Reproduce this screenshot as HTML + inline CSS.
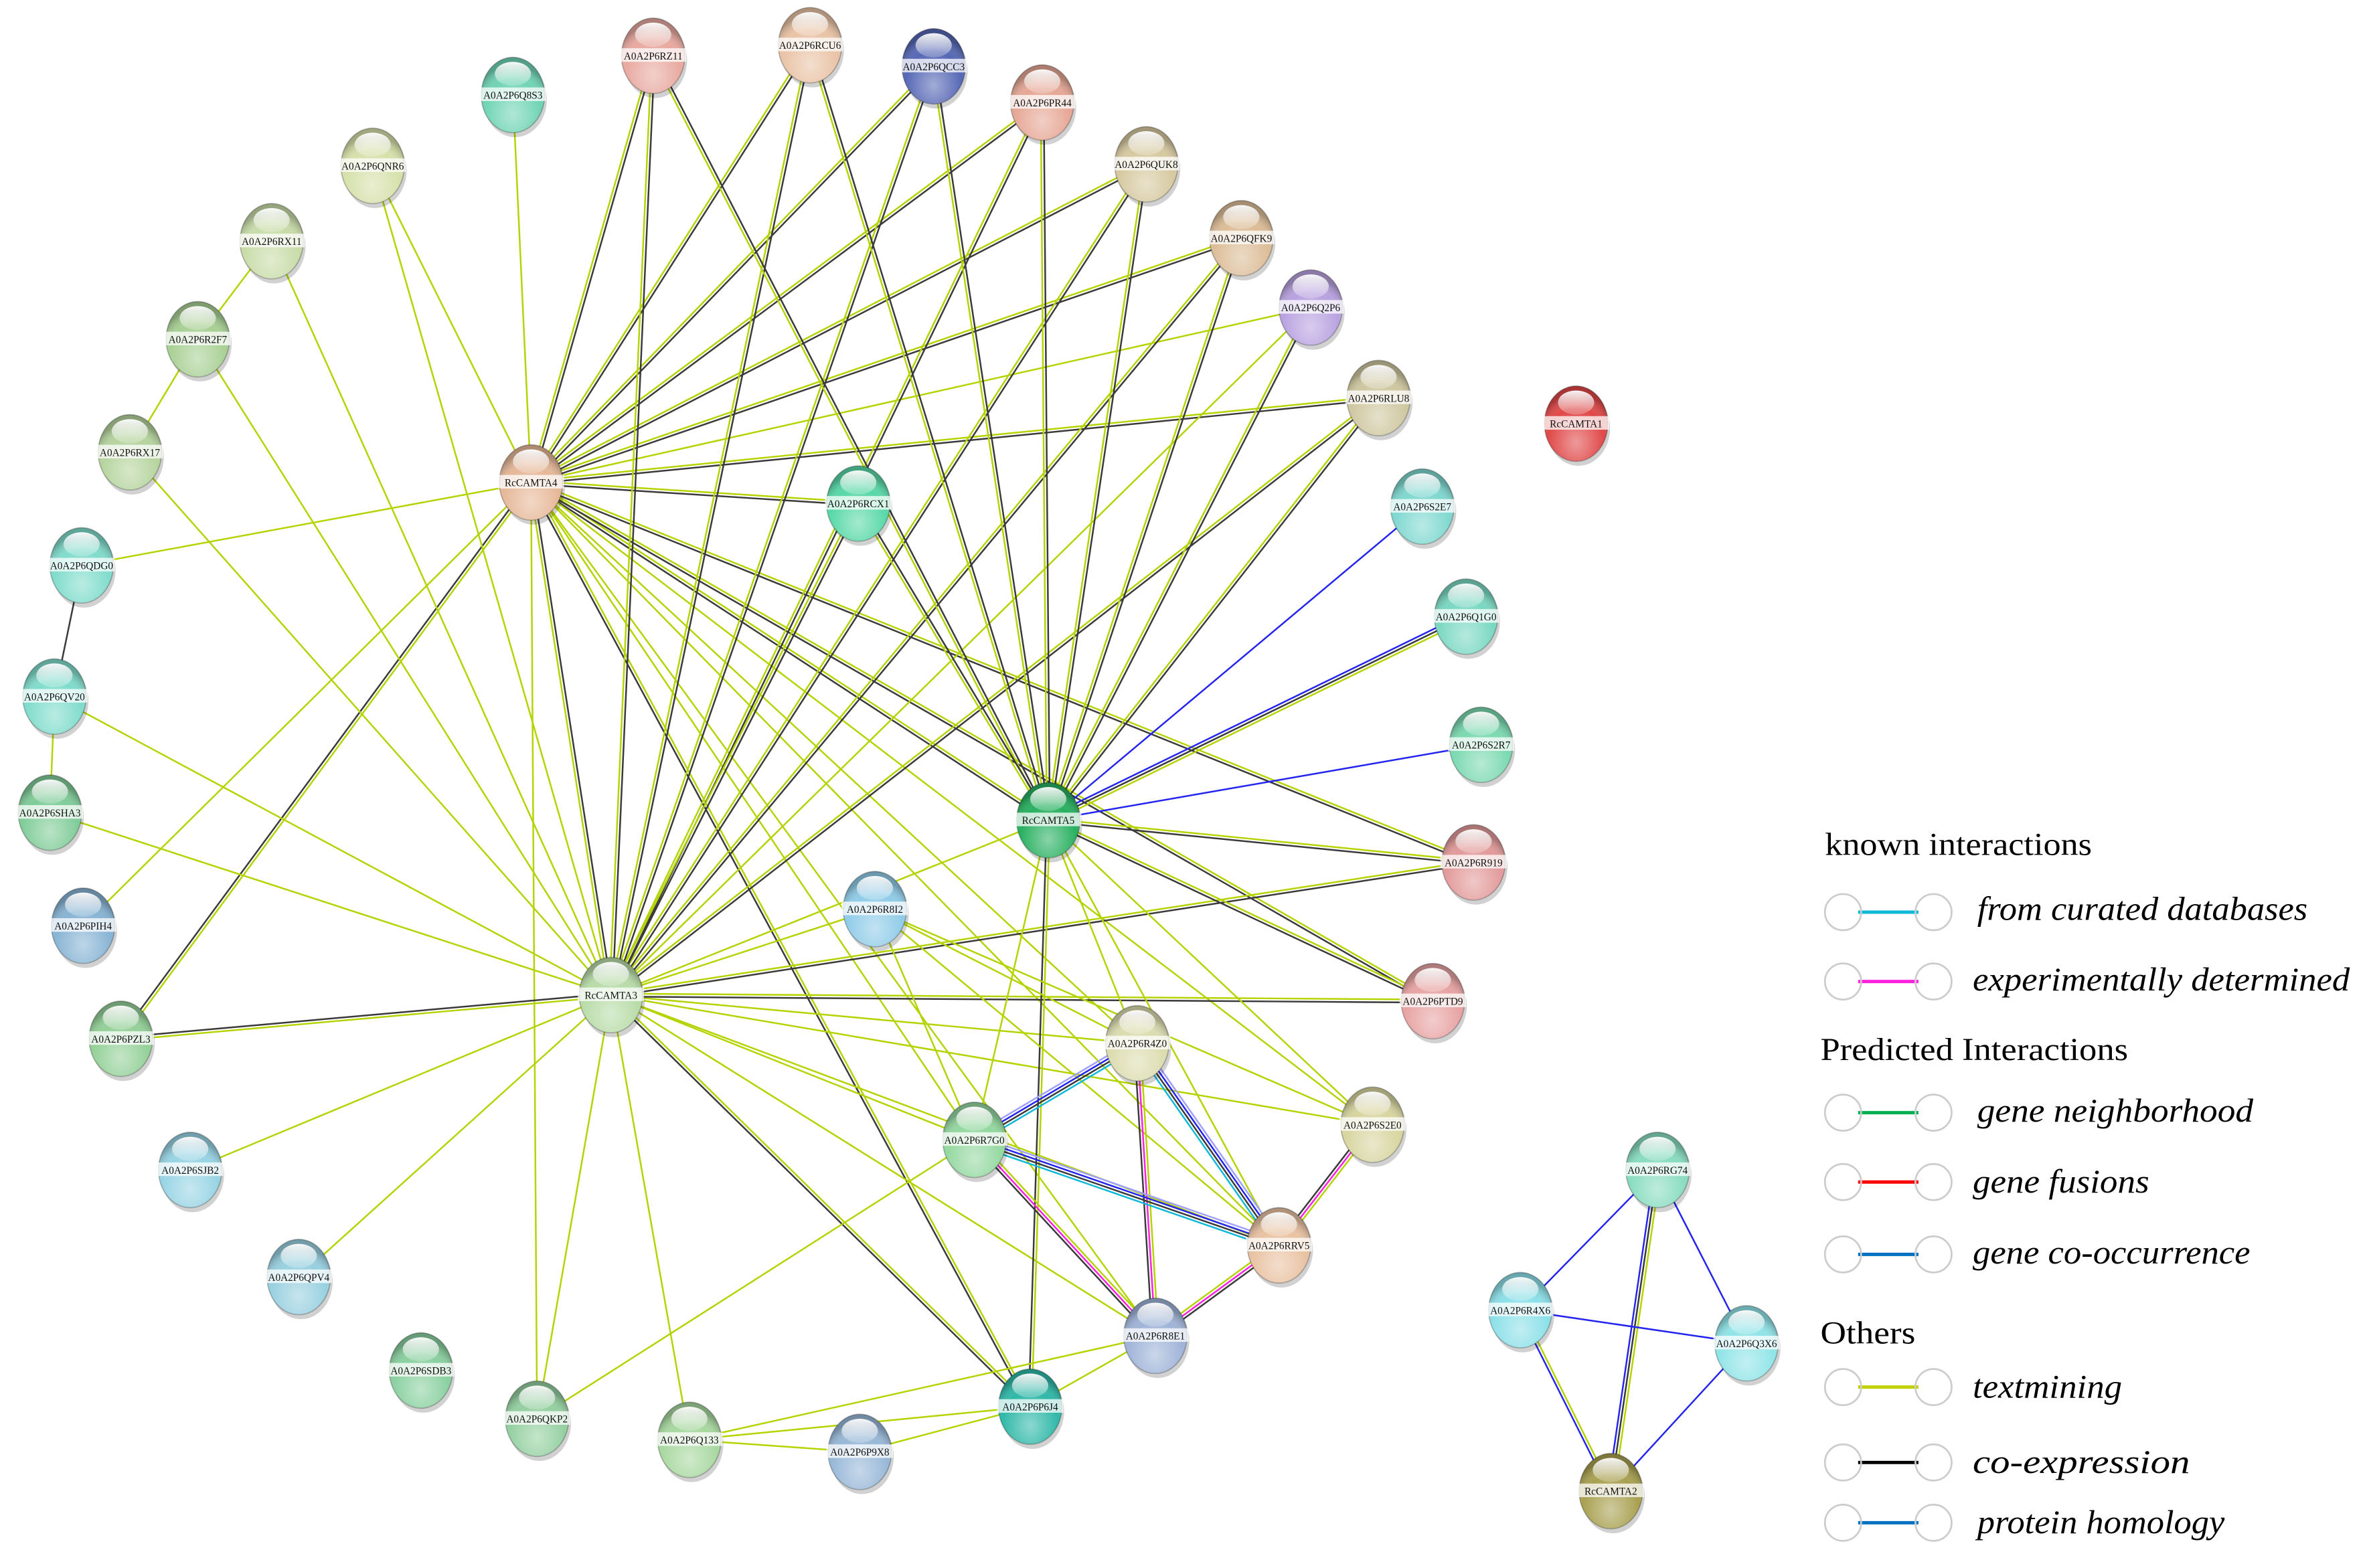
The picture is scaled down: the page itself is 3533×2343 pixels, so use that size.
<!DOCTYPE html>
<html><head><meta charset="utf-8"><style>
html,body{margin:0;padding:0;background:#fff;}
svg{display:block;}
</style></head><body>
<svg id="s" xmlns="http://www.w3.org/2000/svg" width="3533" height="2343" viewBox="0 0 1568 1040">
<defs>
<linearGradient id="gl" x1="0" y1="0" x2="0" y2="1">
<stop offset="0" stop-color="#fff" stop-opacity="0.95"/>
<stop offset="1" stop-color="#fff" stop-opacity="0.2"/>
</linearGradient>
<radialGradient id="shade" cx="0.5" cy="0.75" r="0.65">
<stop offset="0" stop-color="#fff" stop-opacity="0.45"/>
<stop offset="0.7" stop-color="#fff" stop-opacity="0"/>
<stop offset="1" stop-color="#000" stop-opacity="0.25"/>
</radialGradient>
</defs>
<g id="edges"></g>
<g id="nodes"></g>
<g id="legend" font-family="Liberation Serif, serif" fill="#000">
<text x="1210" y="567" font-size="21" textLength="177" lengthAdjust="spacingAndGlyphs">known interactions</text>
<text x="1207" y="703" font-size="21" textLength="204" lengthAdjust="spacingAndGlyphs">Predicted Interactions</text>
<text x="1207" y="891" font-size="21" textLength="63" lengthAdjust="spacingAndGlyphs">Others</text>
<g font-style="italic" font-size="22">
<text x="1311" y="610" textLength="219" lengthAdjust="spacingAndGlyphs">from curated databases</text>
<text x="1308" y="657" textLength="250" lengthAdjust="spacingAndGlyphs">experimentally determined</text>
<text x="1311" y="744" textLength="183" lengthAdjust="spacingAndGlyphs">gene neighborhood</text>
<text x="1308" y="791" textLength="117" lengthAdjust="spacingAndGlyphs">gene fusions</text>
<text x="1308" y="838" textLength="184" lengthAdjust="spacingAndGlyphs">gene co-occurrence</text>
<text x="1308" y="927" textLength="99" lengthAdjust="spacingAndGlyphs">textmining</text>
<text x="1308" y="977" textLength="144" lengthAdjust="spacingAndGlyphs">co-expression</text>
<text x="1311" y="1017" textLength="164" lengthAdjust="spacingAndGlyphs">protein homology</text>
</g>
</g>
</svg>
<script>
var N={
RZ11:[433,37,'#e8a9a0','A0A2P6RZ11'],RCU6:[537,30,'#e9c3a6','A0A2P6RCU6'],QCC3:[619,44,'#5668b5','A0A2P6QCC3'],
PR44:[691,68,'#e6a795','A0A2P6PR44'],QUK8:[760,109,'#d6c9a0','A0A2P6QUK8'],QFK9:[823,158,'#dcbd97','A0A2P6QFK9'],
Q2P6:[869,204,'#b9a2e0','A0A2P6Q2P6'],RLU8:[914,264,'#cfc7a0','A0A2P6RLU8'],C1:[1045,281,'#e04848','RcCAMTA1'],
S2E7:[943,336,'#7fd8d0','A0A2P6S2E7'],Q1G0:[972,409,'#7ad8c2','A0A2P6Q1G0'],S2R7:[982,494,'#7bd9b0','A0A2P6S2R7'],
R919:[977,572,'#e39a9a','A0A2P6R919'],PTD9:[950,664,'#e8a3a3','A0A2P6PTD9'],S2E0:[910,746,'#d8d5a0','A0A2P6S2E0'],
RRV5:[848,826,'#e9c2a2','A0A2P6RRV5'],R8E1:[766,886,'#9fb4d8','A0A2P6R8E1'],P6J4:[683,933,'#2fb8a8','A0A2P6P6J4'],
P9X8:[570,963,'#98b8d8','A0A2P6P9X8'],Q133:[457,955,'#a8d8a0','A0A2P6Q133'],QKP2:[356,941,'#94d0a0','A0A2P6QKP2'],
SDB3:[279,909,'#8ad0a0','A0A2P6SDB3'],QPV4:[198,847,'#98d0e0','A0A2P6QPV4'],SJB2:[126,776,'#98d4e4','A0A2P6SJB2'],
PZL3:[80,689,'#94d098','A0A2P6PZL3'],PIH4:[55,614,'#88b4d4','A0A2P6PIH4'],SHA3:[33,539,'#80cc98','A0A2P6SHA3'],
QV20:[36,462,'#80dccc','A0A2P6QV20'],QDG0:[54,375,'#80dccc','A0A2P6QDG0'],RX17:[86,300,'#b6d49e','A0A2P6RX17'],
R2F7:[131,225,'#a8d094','A0A2P6R2F7'],RX11:[180,160,'#c8dca8','A0A2P6RX11'],QNR6:[247,110,'#d6e0aa','A0A2P6QNR6'],
Q8S3:[340,63,'#70d4b4','A0A2P6Q8S3'],C4:[352,320,'#e6b898','RcCAMTA4'],RCX1:[569,334,'#58d8a8','A0A2P6RCX1'],
C5:[695,544,'#28b060','RcCAMTA5'],R8I2:[580,603,'#90cce8','A0A2P6R8I2'],C3:[405,660,'#b8dca8','RcCAMTA3'],
R4Z0:[754,692,'#dcdcb0','A0A2P6R4Z0'],R7G0:[646,756,'#94d8a0','A0A2P6R7G0'],RG74:[1099,776,'#88dcc0','A0A2P6RG74'],
R4X6:[1008,869,'#8ce0e8','A0A2P6R4X6'],Q3X6:[1158,891,'#90e4e8','A0A2P6Q3X6'],C2:[1068,989,'#a8a050','RcCAMTA2']};
var Y='#b5d300',K='#3a3a3a',B='#2424f0',C='#10b8d8',P='#ff20e0',L='#a0a0ff';
var TK=[Y,K],T=[Y];
var E=[
['C4','RZ11',TK],['C4','RCU6',TK],['C4','QCC3',TK],['C4','PR44',TK],['C4','QUK8',TK],['C4','QFK9',TK],['C4','Q2P6',T],
['C4','RLU8',TK],['C4','RCX1',TK],['C4','QNR6',T],['C4','Q8S3',T],['C4','QDG0',T],['C4','PZL3',TK],['C4','PIH4',T],
['C4','C5',TK],['C4','R919',TK],['C4','PTD9',TK],['C4','R4Z0',T],['C4','S2E0',T],['C4','RRV5',T],['C4','R7G0',T],
['C4','P6J4',TK],['C4','R8E1',T],['C4','QKP2',T],
['C3','RZ11',TK],['C3','RCU6',TK],['C3','QCC3',TK],['C3','PR44',TK],['C3','QUK8',TK],['C3','QFK9',TK],['C3','Q2P6',T],
['C3','RLU8',TK],['C3','RCX1',TK],['C3','C4',TK],['C3','RX11',T],['C3','R2F7',T],['C3','RX17',T],['C3','QNR6',T],
['C3','QV20',T],['C3','SHA3',T],['C3','PZL3',TK],['C3','SJB2',T],['C3','QPV4',T],['C3','QKP2',T],['C3','Q133',T],
['C3','P6J4',TK],['C3','R8E1',T],['C3','RRV5',T],['C3','R7G0',T],['C3','R4Z0',T],['C3','S2E0',T],['C3','PTD9',TK],
['C3','R919',TK],['C3','C5',T],['C3','R8I2',T],
['C5','RZ11',TK],['C5','RCU6',TK],['C5','QCC3',TK],['C5','PR44',TK],['C5','QUK8',TK],['C5','QFK9',TK],['C5','Q2P6',TK],
['C5','RLU8',TK],['C5','RCX1',TK],['C5','S2E7',[B]],['C5','Q1G0',[B,K,Y]],['C5','S2R7',[B]],['C5','R919',TK],['C5','PTD9',TK],
['C5','S2E0',T],['C5','RRV5',T],['C5','R4Z0',T],['C5','R7G0',T],['C5','P6J4',TK],
['RX11','R2F7',T],['R2F7','RX17',T],['QDG0','QV20',[K]],['QV20','SHA3',T],
['R8I2','S2E0',T],['R8I2','RRV5',T],['R8I2','R7G0',T],['R8I2','R4Z0',T],
['R4Z0','R7G0',[C,K,B,L]],['R4Z0','RRV5',[L,B,K,C]],['R4Z0','R8E1',[Y,P,K]],['R7G0','RRV5',[L,B,K,C]],['R7G0','R8E1',[Y,P,K]],
['RRV5','S2E0',[K,P,Y]],['RRV5','R8E1',[K,P,Y]],['R8E1','P6J4',T],['R8E1','Q133',T],['P6J4','Q133',T],['P6J4','P9X8',T],
['Q133','P9X8',T],['R7G0','QKP2',T],
['RG74','R4X6',[B]],['RG74','Q3X6',[B]],['RG74','C2',[Y,K,B]],['R4X6','Q3X6',[B]],['R4X6','C2',[Y,B]],['Q3X6','C2',[B]]];
var NS='http://www.w3.org/2000/svg',eg=document.getElementById('edges'),ng=document.getElementById('nodes');
function el(t,a,p){var e=document.createElementNS(NS,t);for(var k in a)e.setAttribute(k,a[k]);p.appendChild(e);return e;}
E.forEach(function(e){var a=N[e[0]],b=N[e[1]],cs=e[2];var dx=b[0]-a[0],dy=b[1]-a[1],l=Math.hypot(dx,dy),nx=-dy/l,ny=dx/l;
var n=cs.length,gap=2.0;cs.forEach(function(c,i){var o=(i-(n-1)/2)*gap;
el('line',{x1:a[0]+nx*o,y1:a[1]+ny*o,x2:b[0]+nx*o,y2:b[1]+ny*o,stroke:c,'stroke-width':1.1},eg);});});
for(var k in N){var d=N[k],x=d[0],y=d[1];
el('ellipse',{cx:x+1.5,cy:y+3,rx:21,ry:25,fill:'#000',opacity:0.18},ng);
el('ellipse',{cx:x,cy:y,rx:21,ry:25,fill:d[2],stroke:'#000','stroke-opacity':0.25,'stroke-width':0.8},ng);
el('ellipse',{cx:x,cy:y,rx:21,ry:25,fill:'url(#shade)'},ng);
el('ellipse',{cx:x,cy:y-14,rx:12,ry:8,fill:'url(#gl)'},ng);
el('rect',{x:x-22,y:y-5,width:44,height:9,fill:'#fff',opacity:0.75},ng);
var t=el('text',{x:x,y:y+2.5,'text-anchor':'middle','font-family':'Liberation Serif, serif','font-size':6.8,fill:'#111'},ng);t.textContent=d[3];}
var lg=document.getElementById('legend');
[[605,C],[651,P],[738,'#00b050'],[784,'#ff0000'],[832,'#0070c0'],[920,'#c0d000'],[970,'#000'],[1010,'#0070c0']].forEach(function(r){
el('line',{x1:1232,y1:r[0],x2:1272,y2:r[0],stroke:r[1],'stroke-width':2.2},lg);
el('circle',{cx:1222,cy:r[0],r:12,fill:'none',stroke:'#ccc','stroke-width':1.2},lg);
el('circle',{cx:1282,cy:r[0],r:12,fill:'none',stroke:'#ccc','stroke-width':1.2},lg);});
</script>
</body></html>
